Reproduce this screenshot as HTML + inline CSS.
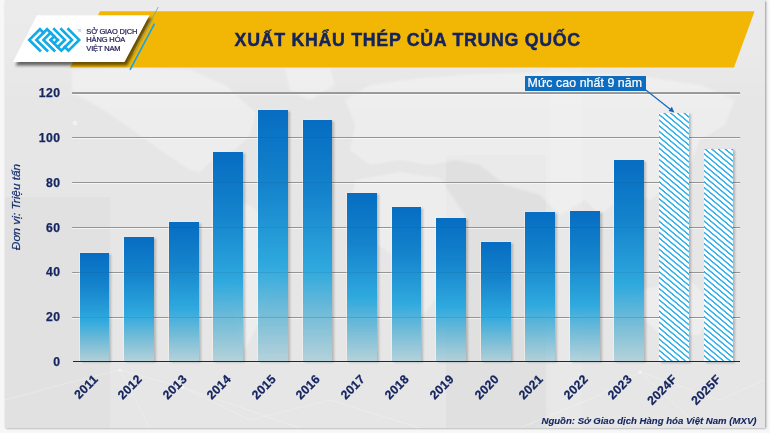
<!DOCTYPE html>
<html><head><meta charset="utf-8">
<style>
html,body{margin:0;padding:0;}
body{width:770px;height:433px;overflow:hidden;background:#f7f7f7;font-family:"Liberation Sans",sans-serif;position:relative;}
#panel{position:absolute;left:5px;top:0;width:759.5px;height:428px;background:#e6e6e6;box-shadow:1px 1.3px 2.2px rgba(0,0,0,.42);overflow:hidden;}
#root{position:absolute;left:0;top:0;width:770px;height:433px;will-change:transform;}
.gl{position:absolute;left:72.2px;width:668.2px;height:1.2px;background:#9e9e9e;box-shadow:0 1px 0 rgba(255,255,255,.6);}
.go{position:absolute;left:72.5px;width:668px;height:1px;background:rgba(30,40,60,.08);}
.yl{-webkit-text-stroke:0.25px #14245f;position:absolute;left:20.6px;width:40px;text-align:right;font-weight:bold;font-size:12.2px;letter-spacing:0.5px;line-height:14px;color:#14245f;}
.bar{position:absolute;background:linear-gradient(to bottom,#066dc2 0%,#1483cc 30%,#2fa9de 62%,rgba(88,178,212,.82) 80%,rgba(150,197,210,.6) 100%);box-shadow:2px 0.7px 2.2px rgba(0,0,0,.22),-0.8px -0.6px 0 rgba(255,246,240,.5);}
.bar.hatch{background:repeating-linear-gradient(40deg,#38b2ea 0,#38b2ea 0.95px,#ffffff 1.5px,#ffffff 3.75px,#38b2ea 4.3px);box-shadow:1.5px 0.5px 2px rgba(0,0,0,.22);}
.xl{-webkit-text-stroke:0.25px #14245f;position:absolute;width:60px;text-align:right;font-weight:bold;font-size:12.2px;letter-spacing:0.35px;line-height:12px;color:#14245f;transform-origin:100% 50%;transform:rotate(-45deg);white-space:nowrap;}
#axis{position:absolute;left:72.5px;top:361.2px;width:667.5px;height:1.2px;background:#14245f;}
#ytitle{position:absolute;left:16.4px;top:207px;width:0;height:0;}
#ytitle span{position:absolute;white-space:nowrap;font-style:italic;font-size:11.8px;letter-spacing:0px;color:#17306f;-webkit-text-stroke:0.2px #17306f;transform:translate(-50%,-50%) rotate(-90deg);line-height:12px;}
#src{position:absolute;right:13.5px;top:414px;font-size:9.6px;font-weight:bold;font-style:italic;color:#14245f;-webkit-text-stroke:0.12px #14245f;white-space:nowrap;line-height:13px;}
#title{position:absolute;left:234.6px;top:28.9px;font-size:17.8px;font-weight:bold;color:#14245f;-webkit-text-stroke:0.45px #12225e;white-space:nowrap;line-height:22px;letter-spacing:0.7px;}
#note{position:absolute;left:525px;top:75.7px;width:120.6px;height:14.9px;background:#0f6dc0;color:#fff;font-size:12.35px;line-height:15px;white-space:nowrap;-webkit-text-stroke:0.2px #fff;}
#note span{position:absolute;left:2.6px;top:0.5px;letter-spacing:0.07px;}
#tm{position:absolute;left:77.4px;top:29.8px;font-size:2.7px;line-height:4px;color:#9ccbe4;font-weight:bold;}
#ltext{-webkit-text-stroke:0.22px #27225a;position:absolute;left:86.3px;top:27.7px;font-size:7.5px;letter-spacing:-0.14px;line-height:8.5px;color:#27225a;white-space:nowrap;}
</style></head><body>
<div id="panel"></div>
<div id="root">
<svg width="770" height="433" style="position:absolute;left:0;top:0">
 <defs><linearGradient id="tb" x1="0" y1="0" x2="0" y2="1"><stop offset="0" stop-color="#fff" stop-opacity=".22"/><stop offset="0.5" stop-color="#fff" stop-opacity=".16"/><stop offset="1" stop-color="#fff" stop-opacity="0"/></linearGradient><filter id="mb"><feGaussianBlur stdDeviation="1.2"/></filter><clipPath id="pc"><rect x="5" y="0" width="759.5" height="428"/></clipPath></defs>
 <g clip-path="url(#pc)">
 <rect x="5" y="0" width="760" height="110" fill="url(#tb)"/>
 <rect x="5" y="197" width="105" height="231" fill="#000" opacity=".018"/>
 <rect x="446" y="155" width="100" height="273" fill="#000" opacity=".022"/>
 <rect x="550" y="68" width="32" height="360" fill="#fff" opacity=".1"/>
 <g fill="#fff" opacity=".3" filter="url(#mb)">
  <polygon points="72,70 130,68 190,70 225,85 256,113 250,135 235,150 215,158 200,172 190,170 160,150 130,128 100,108 72,92"/>
  <polygon points="285,68 330,68 335,85 310,100 290,90"/>
  <polygon points="215,200 250,205 285,235 278,280 255,330 245,350 235,320 228,270 212,235"/>
  <polygon points="345,100 370,85 420,78 480,74 560,72 640,76 700,85 735,100 725,125 700,140 690,165 670,185 650,200 625,195 600,215 585,200 560,215 540,195 505,185 480,165 455,160 430,165 400,160 370,165 350,150 355,125"/>
  <polygon points="355,180 400,172 440,178 465,215 455,260 435,300 415,325 400,300 392,255 365,235 350,210"/>
  <polygon points="640,290 690,280 715,305 700,335 660,335 640,315"/>
 </g>
 <g stroke="#fff" stroke-width="0.7" opacity=".35" fill="none">
  <polyline points="5,400 60,385 120,370 182,387 250,420 330,400 420,428"/>
  <polyline points="120,370 150,428"/><polyline points="182,387 300,428"/>
  <polyline points="520,428 600,395 640,372 720,400 764,380"/>
  <polyline points="640,372 700,428"/>
 </g>
 <g fill="#fff" opacity=".45"><circle cx="182" cy="387" r="2.2"/><circle cx="120" cy="370" r="1.6"/><circle cx="714" cy="185" r="2.5"/><circle cx="640" cy="372" r="1.8"/><circle cx="75" cy="123" r="2.5"/></g>
 </g>
</svg>
<svg width="770" height="433" style="position:absolute;left:0;top:0">
 <defs>
  <filter id="sh" x="-20%" y="-20%" width="140%" height="160%"><feGaussianBlur stdDeviation="1.8"/></filter>
  <linearGradient id="tl" gradientUnits="userSpaceOnUse" x1="158.3" y1="7" x2="133.5" y2="53"><stop offset="0" stop-color="#3a9fd8"/><stop offset="0.35" stop-color="#4aa6da" stop-opacity="0.9"/><stop offset="0.6" stop-color="#9cc4d8" stop-opacity="0.6"/><stop offset="1" stop-color="#b8d0dc" stop-opacity="0.45"/></linearGradient>
 </defs>
 <!-- banner -->
 <polygon points="100,11.3 754.6,11.3 734,67.4 70,67.4" fill="#f2b705"/>
 <!-- logo box shadow -->
 <polygon points="39.5,18 152,18 127,65.5 15.5,65.5" fill="rgba(0,0,0,.58)" filter="url(#sh)"/>
 <polygon points="37,15.2 149.5,15.2 124.5,62 13,62" fill="#ffffff"/>
 <line x1="158.3" y1="7" x2="133.5" y2="53" stroke="url(#tl)" stroke-width="0.7"/>
 <line x1="154.5" y1="23.7" x2="130" y2="69.9" stroke="#1aa3e6" stroke-width="1.7"/>
 <g fill="none" stroke="#12abe8" stroke-width="2.7" stroke-linejoin="miter" stroke-linecap="square">
 <polyline points="39.96,50.58 29.28,39.90 39.96,29.22 43.52,32.78"/>
<polyline points="68.44,29.22 79.12,39.90 68.44,50.58 64.88,47.02"/>
<polyline points="47.08,50.58 36.40,39.90 47.08,29.22 57.76,39.90"/>
<polyline points="61.32,29.22 72.00,39.90 61.32,50.58 50.64,39.90"/>
<polyline points="54.20,50.58 43.52,39.90 50.64,32.78"/>
<polyline points="54.20,29.22 64.88,39.90 57.76,47.02"/>
<polyline points="50.64,39.90 54.20,36.34"/>
<polyline points="57.76,39.90 54.20,43.46"/>

 </g>
</svg>
<div id="tm">TM</div>
<div id="ltext">SỞ GIAO DỊCH<br>HÀNG HÓA<br>VIỆT NAM</div>
<div id="title">XUẤT KHẨU THÉP CỦA TRUNG QUỐC</div>
<div class="gl" style="top:316.57px"></div>
<div class="yl" style="top:310.17px">20</div>
<div class="gl" style="top:271.74px"></div>
<div class="yl" style="top:265.34px">40</div>
<div class="gl" style="top:226.91px"></div>
<div class="yl" style="top:220.51px">60</div>
<div class="gl" style="top:182.08px"></div>
<div class="yl" style="top:175.68px">80</div>
<div class="gl" style="top:137.25px"></div>
<div class="yl" style="top:130.85px">100</div>
<div class="gl" style="top:92.42px"></div>
<div class="yl" style="top:86.02px">120</div>
<div class="yl" style="top:355.00px">0</div>

<div class="bar" style="left:79.70px;top:252.90px;width:29.8px;height:109.10px"></div>
<div class="xl" style="left:35.50px;top:370.8px">2011</div>
<div class="bar" style="left:124.26px;top:237.20px;width:29.8px;height:124.80px"></div>
<div class="xl" style="left:80.06px;top:370.8px">2012</div>
<div class="bar" style="left:168.82px;top:222.40px;width:29.8px;height:139.60px"></div>
<div class="xl" style="left:124.62px;top:370.8px">2013</div>
<div class="bar" style="left:213.38px;top:151.80px;width:29.8px;height:210.20px"></div>
<div class="xl" style="left:169.18px;top:370.8px">2014</div>
<div class="bar" style="left:257.94px;top:110.00px;width:29.8px;height:252.00px"></div>
<div class="xl" style="left:213.74px;top:370.8px">2015</div>
<div class="bar" style="left:302.50px;top:119.90px;width:29.8px;height:242.10px"></div>
<div class="xl" style="left:258.30px;top:370.8px">2016</div>
<div class="bar" style="left:347.06px;top:193.00px;width:29.8px;height:169.00px"></div>
<div class="xl" style="left:302.86px;top:370.8px">2017</div>
<div class="bar" style="left:391.62px;top:206.60px;width:29.8px;height:155.40px"></div>
<div class="xl" style="left:347.42px;top:370.8px">2018</div>
<div class="bar" style="left:436.18px;top:218.30px;width:29.8px;height:143.70px"></div>
<div class="xl" style="left:391.98px;top:370.8px">2019</div>
<div class="bar" style="left:480.74px;top:241.70px;width:29.8px;height:120.30px"></div>
<div class="xl" style="left:436.54px;top:370.8px">2020</div>
<div class="bar" style="left:525.30px;top:212.00px;width:29.8px;height:150.00px"></div>
<div class="xl" style="left:481.10px;top:370.8px">2021</div>
<div class="bar" style="left:569.86px;top:210.90px;width:29.8px;height:151.10px"></div>
<div class="xl" style="left:525.66px;top:370.8px">2022</div>
<div class="bar" style="left:614.42px;top:159.50px;width:29.8px;height:202.50px"></div>
<div class="xl" style="left:570.22px;top:370.8px">2023</div>
<div class="xl" style="left:614.78px;top:370.8px">2024F</div>
<div class="xl" style="left:659.34px;top:370.8px">2025F</div>

<div class="go" style="top:316.67px"></div>
<div class="go" style="top:271.84px"></div>
<div class="go" style="top:227.01px"></div>
<div class="go" style="top:182.18px"></div>
<div class="go" style="top:137.35px"></div>
<div class="go" style="top:92.52px"></div>

<div class="bar hatch" style="left:658.98px;top:112.50px;width:29.8px;height:249.50px"></div>
<div class="bar hatch" style="left:703.54px;top:148.70px;width:29.8px;height:213.30px"></div>

<div id="axis"></div>
<div id="ytitle"><span>Đơn vị: Triệu tấn</span></div>
<div id="note"><span>Mức cao nhất 9 năm</span></div>
<svg width="770" height="433" style="position:absolute;left:0;top:0;pointer-events:none">
 <line x1="645.5" y1="89.8" x2="671.5" y2="110.2" stroke="#1263b8" stroke-width="1.1"/>
 <polygon points="674.3,112.4 668.6,110.9 671.9,106.7" fill="#1263b8"/>
</svg>
<div id="src">Nguồn: Sở Giao dịch Hàng hóa Việt Nam (MXV)</div>
</div>
</body></html>
